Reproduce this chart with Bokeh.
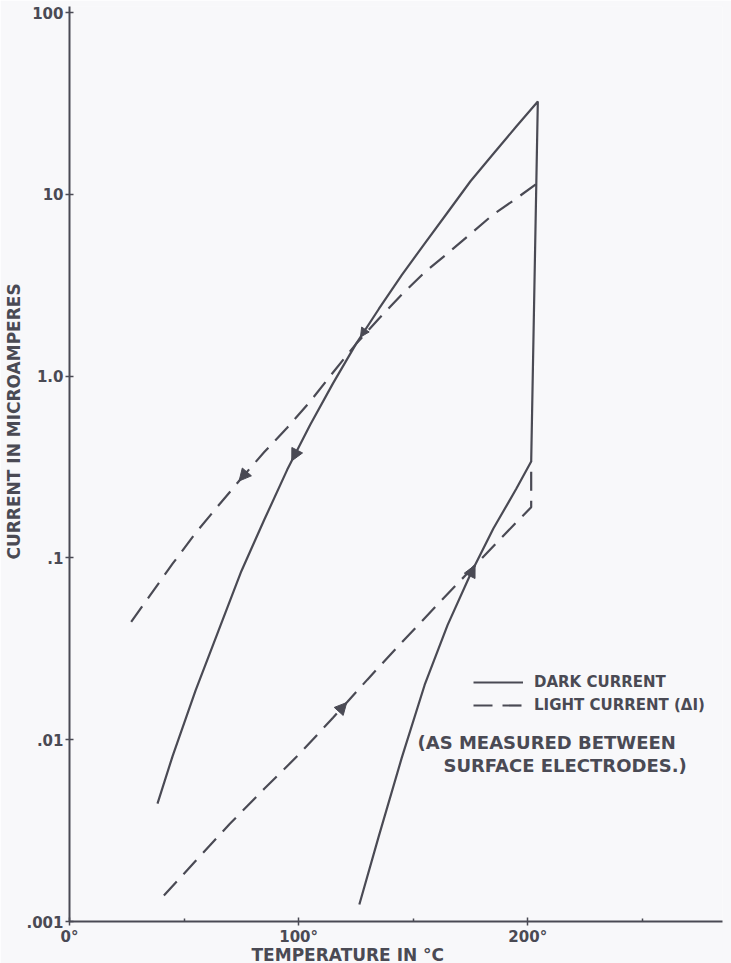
import numpy as np
from bokeh.plotting import figure
from bokeh.models import (Range1d, FixedTicker, Arrow, NormalHead, Label,
                          Legend, LegendItem, Title)
from bokeh.embed import file_html
from bokeh.resources import INLINE

# ---------------- data ----------------
# Dark current, heating branch (lower solid curve), temperature in deg C
dark_heat_t = [126.5, 135, 145, 155, 165, 175, 185, 195, 201.5]
dark_heat_i = [0.00124, 0.00295, 0.00794, 0.0200, 0.0427, 0.0813, 0.145, 0.240, 0.339]
# Dark current, cooling branch (upper solid curve)
dark_cool_t = [204.4, 195, 185, 175, 165, 155, 145, 135, 125, 115, 105, 95, 85, 75, 65, 55, 45, 38.4]
dark_cool_i = [32.4, 23.6, 16.7, 11.8, 7.94, 5.36, 3.59, 2.34, 1.50, 0.912, 0.538, 0.305,
               0.162, 0.0845, 0.0397, 0.0186, 0.00813, 0.00445]
# Light current (delta I), heating branch (lower dashed curve)
light_heat_t = [41.2, 55, 70, 85, 100, 115, 130, 145, 160, 175, 190, 201.5, 201.5]
light_heat_i = [0.00139, 0.00215, 0.00345, 0.00537, 0.00826, 0.0132, 0.0214, 0.0343,
                0.0543, 0.0857, 0.135, 0.190, 0.339]
# Light current (delta I), cooling branch (upper dashed curve)
light_cool_t = [203.5, 195, 185, 175, 165, 155, 145, 135, 125, 115, 105, 95, 85, 75, 65, 55, 45, 35, 25.2]
light_cool_i = [11.35, 9.48, 7.76, 6.05, 4.73, 3.72, 2.81, 2.07, 1.50, 1.047, 0.724, 0.520,
                0.382, 0.274, 0.194, 0.137, 0.0929, 0.0618, 0.0414]

y_ticks = [0.001, 0.01, 0.1, 1.0, 10.0, 100.0]
y_tick_labels = [".001", ".01", ".1", "1.0", "10", "100"]
x_ticks = [0, 100, 200]
x_minor_ticks = [50, 150, 250]
x_tick_labels = ["0°", "100°", "200°"]

# ---------------- style ----------------
INK = "#4a4a54"
BG = "#f8f8fa"
FONT = "DejaVu Sans"
TICK_FS = "15px"
TITLE_FS = "17px"
NOTE_FS = "18px"
LEGEND_FS = "15px"
PX_PER_DECADE = 181.8

p = figure(width=731, height=963, y_axis_type="log",
           x_range=Range1d(0, 285),
           y_range=Range1d(1e-3, 10 ** (2 + 6 / PX_PER_DECADE)),
           min_border_left=69, min_border_right=9, min_border_top=6, min_border_bottom=42,
           background_fill_color=BG, border_fill_color=BG, outline_line_color=None,
           output_backend="svg", toolbar_location=None)
p.xgrid.visible = False
p.ygrid.visible = False

for ax in (p.xaxis[0], p.yaxis[0]):
    ax.axis_line_color = INK
    ax.axis_line_width = 2
    ax.major_tick_line_color = INK
    ax.major_tick_line_width = 1.5
    ax.major_tick_in = 4
    ax.major_tick_out = 4
    ax.minor_tick_line_color = INK
    ax.minor_tick_line_width = 1.5
    ax.major_label_text_color = INK
    ax.major_label_text_font = FONT
    ax.major_label_text_font_size = TICK_FS
    ax.major_label_text_font_style = "bold"
    ax.major_label_standoff = 2

p.xaxis.ticker = FixedTicker(ticks=x_ticks, minor_ticks=x_minor_ticks)
p.xaxis.major_label_overrides = dict(zip(x_ticks, x_tick_labels))
p.xaxis.minor_tick_in = 3
p.xaxis.minor_tick_out = 0

p.yaxis.ticker = FixedTicker(ticks=y_ticks, minor_ticks=[])
p.yaxis.major_label_overrides = dict(zip(y_ticks, y_tick_labels))

# axis titles (as side titles so that they can be shifted along the axis)
title_opts = dict(text_font=FONT, text_font_size=TITLE_FS, text_font_style="bold",
                  text_color=INK, align="left")
p.add_layout(Title(text="TEMPERATURE IN °C", offset=182, standoff=-8,
                   vertical_align="top", **title_opts), "below")
p.add_layout(Title(text="CURRENT IN MICROAMPERES", offset=362, standoff=0, **title_opts), "left")

# ---------------- curves ----------------
dark_r = p.line(dark_heat_t + dark_cool_t, dark_heat_i + dark_cool_i,
                line_color=INK, line_width=2.2)
light_r = p.line(light_heat_t, light_heat_i, line_color=INK, line_width=2.2,
                 line_dash="19 10")
p.line(light_cool_t, light_cool_i, line_color=INK, line_width=2.2, line_dash="19 10")


def arrow_on(ts, vals, t_at, toward_higher_t, size=11):
    t = np.array(ts, dtype=float)
    l = np.log10(np.array(vals, dtype=float))
    order = np.argsort(t)
    t, l = t[order], l[order]
    dt = 2.0 if toward_higher_t else -2.0
    l_end = np.interp(t_at, t, l)
    l_start = np.interp(t_at - dt, t, l)
    return Arrow(end=NormalHead(size=size, fill_color=INK, line_color=INK, line_width=1),
                 x_start=t_at - dt, y_start=10 ** l_start, x_end=t_at, y_end=10 ** l_end,
                 line_color=INK, line_width=2)


p.add_layout(arrow_on(dark_cool_t, dark_cool_i, 97.0, False, size=12))
p.add_layout(arrow_on(dark_cool_t, dark_cool_i, 127.0, False, size=9))
p.add_layout(arrow_on(light_cool_t, light_cool_i, 74.0, False, size=12))
p.add_layout(arrow_on(light_heat_t[:-1], light_heat_i[:-1], 121.0, True, size=12))
p.add_layout(arrow_on(dark_heat_t, dark_heat_i, 177.0, True, size=12))

# ---------------- legend ----------------
legend = Legend(items=[LegendItem(label="DARK CURRENT", renderers=[dark_r]),
                       LegendItem(label="LIGHT CURRENT (ΔI)", renderers=[light_r])],
                location=(404, 206), orientation="vertical",
                background_fill_alpha=0, border_line_color=None,
                glyph_width=50, glyph_height=20, label_height=20, spacing=3,
                padding=0, margin=0, label_standoff=11,
                label_text_font=FONT, label_text_font_size=LEGEND_FS,
                label_text_font_style="bold", label_text_color=INK)
p.add_layout(legend)

# ---------------- note texts ----------------
def txt(x, y, s, **kw):
    opts = dict(text_font=FONT, text_font_size=NOTE_FS, text_font_style="bold",
                text_color=INK, text_baseline="middle")
    opts.update(kw)
    p.add_layout(Label(x=x, y=y, text=s, **opts))


txt(151.9, 10 ** -2.015, "(AS MEASURED BETWEEN")
txt(163.2, 10 ** -2.142, "SURFACE  ELECTRODES.)")

html = file_html(p, INLINE)
html = html.replace("<body>", '<body style="background:%s">' % BG, 1)
open("out.html", "w").write(html)
